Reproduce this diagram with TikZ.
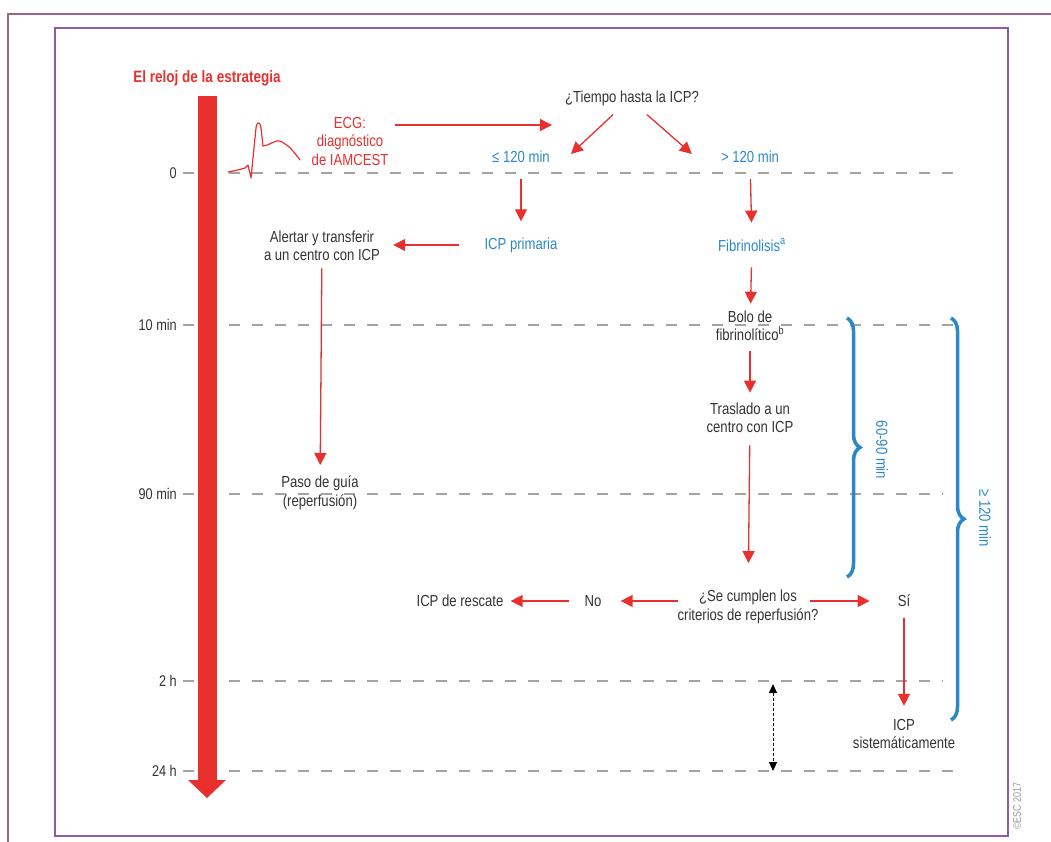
\documentclass[tikz,border=0pt]{standalone}
\usepackage{fontspec}
\setmainfont{Liberation Sans}[FakeStretch=0.82]
\usetikzlibrary{arrows.meta,decorations.pathreplacing}

\definecolor{clockred}{HTML}{E8312F}
\definecolor{timeblue}{HTML}{2B88C8}
\definecolor{gridgray}{HTML}{A3A3A3}
\definecolor{textgray}{HTML}{333333}
\definecolor{framepurple}{HTML}{8E5BA6}
\definecolor{framemaroon}{HTML}{9B6580}

\begin{document}
\begin{tikzpicture}[x=1pt,y=-1pt,
    flow/.style={draw=clockred, line width=1.3pt, -{Triangle[length=12pt,width=12pt]}},
    gridline/.style={draw=gridgray, line width=2.5pt, dash pattern=on 11pt off 12pt},
    txt/.style={align=center, inner sep=1pt, text=textgray, font=\fontsize{16}{18.5}\selectfont},
    bluetxt/.style={txt, text=timeblue},
    redtxt/.style={txt, text=clockred},
    timelbl/.style={anchor=east, inner sep=1pt, text=textgray, font=\fontsize{15.5}{17}\selectfont},
    brc/.style={draw=timeblue, line width=3.5pt, decorate, decoration={brace, amplitude=13pt}}]

    \useasboundingbox (0,0) rectangle (1051,842);

    % Frames
    \draw[framemaroon, line width=1.2pt] (8,842) -- (8,14) -- (1051,14);
    \draw[framepurple, line width=2.2pt] (55,28) rectangle (1008,836);

    % Time grid
    \foreach \y/\lbl/\xend in {173/0/960, 325/10 min/953, 494/90 min/943, 681/2 h/943, 771/24 h/960} {
        \draw[gridline] (183,\y) -- (\xend,\y);
        \node[timelbl] (t\y) at (178,\y) {\lbl};
    }

    % Strategy clock
    \fill[clockred] (198,96) rectangle (217,781);
    \fill[clockred] (188,780) -- (226,780) -- (207,798) -- cycle;
    \node[font=\bfseries\fontsize{16.5}{18}\selectfont, text=clockred, inner sep=1pt] (clock) at (207,78) {El reloj de la estrategia};

    % ECG trace
    \draw[clockred, line width=1.2pt, line join=round]
        (228,172) .. controls (238,170) .. (245,168) -- (248,165) -- (251,178) --
        (256,128) .. controls (257,121) and (260,121) .. (261,128) -- (263,146)
        .. controls (270,146) and (275,138) .. (282,142) .. controls (290,147) .. (300,160);

    % Nodes
    \node[redtxt] (ecg) at (350,141) {ECG:\\diagnóstico\\de IAMCEST};
    \node[txt] (tiempo) at (632,98) {¿Tiempo hasta la ICP?};
    \node[bluetxt] (le120) at (521,157) {≤ 120 min};
    \node[bluetxt] (gt120) at (750,157) {> 120 min};
    \node[bluetxt] (primaria) at (521,245) {ICP primaria};
    \node[bluetxt] (fibrin) at (752,245) {Fibrinolisis\textsuperscript{a}};
    \node[txt] (alertar) at (322,246) {Alertar y transferir\\a un centro con ICP};
    \node[txt] (paso) at (320,493) {Paso de guía\\(reperfusión)};
    \node[txt] (bolo) at (750,326) {Bolo de\\fibrinolítico\textsuperscript{b}};
    \node[txt] (traslado) at (750,418) {Traslado a un\\centro con ICP};
    \node[txt] (criterios) at (748,607) {¿Se cumplen los\\criterios de reperfusión?};
    \node[txt] (no) at (593,601) {No};
    \node[txt] (rescate) at (460,601) {ICP de rescate};
    \node[txt] (si) at (904,601) {Sí};
    \node[txt] (sistem) at (904,734) {ICP\\sistemáticamente};

    % Connectors
    \coordinate (ecgend) at (552,125);
    \draw[flow, shorten <=6pt] (ecg.east |- ecgend) -- (ecgend);
    \draw[flow] ([shift={(-19,8)}]tiempo.south) -- ([shift={(20,4)}]le120.north east);
    \draw[flow] ([shift={(15,8)}]tiempo.south) -- ([shift={(-28,4)}]gt120.north west);
    \draw[flow, shorten <=15pt, shorten >=15pt] (le120) -- (primaria);
    \draw[flow, shorten <=15pt, shorten >=15pt] (gt120) -- (fibrin);
    \draw[flow, shorten <=24pt, shorten >=12pt] (primaria.west) -- (alertar.east |- primaria);
    \draw[flow, shorten <=6pt, shorten >=10pt] (alertar) -- (paso);
    \draw[flow, shorten <=15pt, shorten >=6pt] (fibrin) -- (bolo);
    \draw[flow, shorten <=9pt, shorten >=9pt] (bolo) -- (traslado);
    \draw[flow, shorten <=11pt, shorten >=26pt] (traslado) -- (criterios);
    \draw[flow, shorten >=18pt] ([xshift=2pt]criterios.west |- no) -- (no);
    \draw[flow, shorten <=14pt, shorten >=6pt] (no) -- (rescate);
    \draw[flow, shorten >=27pt] ([xshift=-10pt]criterios.east |- si) -- (si);
    \draw[flow, shorten <=10pt, shorten >=12pt] (si) -- (sistem);

    % Gap between 2 h and 24 h
    \coordinate (gaptop) at (773,684);
    \coordinate (gapbot) at (773,771);
    \draw[black, line width=1pt, dash pattern=on 3pt off 2pt,
        {Triangle[length=9pt,width=8pt]}-{Triangle[length=9pt,width=8pt]}] (gaptop) -- (gapbot);

    % Braces
    \draw[brc] (847,318) -- (847,577);
    \node[bluetxt, rotate=-90] (b6090) at (882,450) {60-90 min};
    \draw[brc] (951,318) -- (951,720);
    \node[bluetxt, rotate=-90] (b120) at (985,518) {≥ 120 min};

    % Copyright
    \node[rotate=90, inner sep=0pt, text=gray!80, font=\fontsize{11}{12}\selectfont] (copyr) at (1017,806) {©ESC 2017};
\end{tikzpicture}
\end{document}
